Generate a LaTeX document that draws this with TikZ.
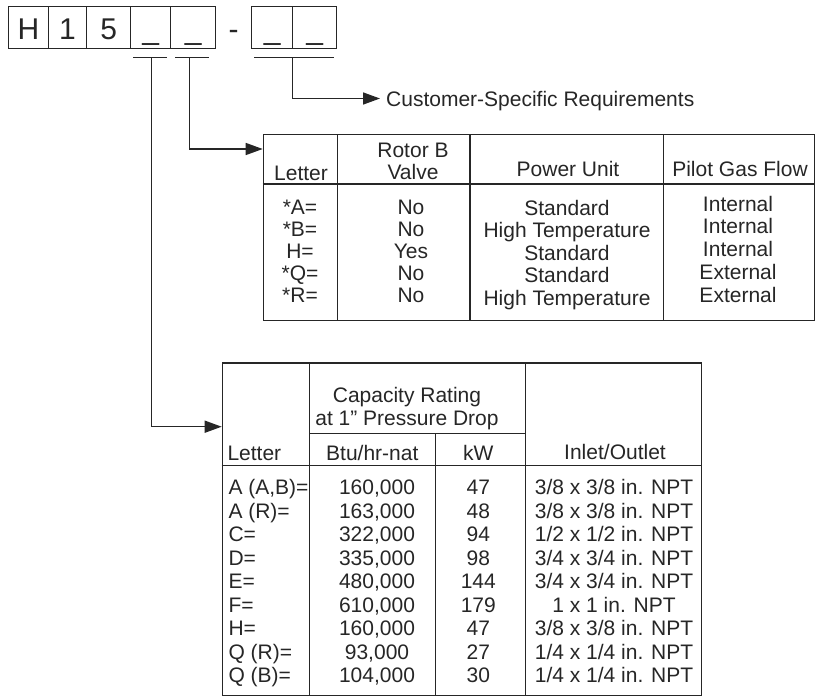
\documentclass[tikz,border=0pt]{standalone}
\usepackage{fontspec}
\setmainfont{Liberation Sans}
\usetikzlibrary{arrows.meta}
\definecolor{ink}{HTML}{262626}
\begin{document}
\begin{tikzpicture}[x=1pt,y=-1pt,
  codebox/.style={draw=ink, line width=1.3pt, minimum height=42pt, inner sep=0pt, anchor=north west,
    text height=23.5pt, text depth=0pt, font=\fontsize{30}{34}\selectfont, text=ink},
  txt/.style={inner sep=0pt, text height=15.1pt, text depth=0pt, font=\fontsize{21}{25}\selectfont, text=ink},
  tbl/.style={draw=ink, line width=1.2pt, inner sep=0pt, anchor=north west},
  tline/.style={draw=ink, line width=1.2pt},
  bar/.style={draw=ink, line width=1.2pt},
  conn/.style={draw=ink, line width=1.5pt, -{Triangle[length=17pt,width=12pt]}}]
\useasboundingbox (0,0) rectangle (818,696);

% part-number boxes
\node[codebox, minimum width=39.7pt] (c1) at (8,5.7) {H};
\node[codebox, minimum width=38.3pt] (c2) at (47.7,5.7) {1};
\node[codebox, minimum width=44pt] (c3) at (86,5.7) {5};
\node[codebox, minimum width=40pt] (c4) at (130,5.7) {\_};
\node[codebox, minimum width=45pt] (c5) at (170,5.7) {\_};
\node[codebox, draw=none, minimum width=36pt] (dash) at (215,5.7) {-};
\node[codebox, minimum width=41pt] (c6) at (251,5.7) {\_};
\node[codebox, minimum width=44pt] (c7) at (292,5.7) {\_};

% bars under boxes
\draw[bar] (133,57.3) -- (167,57.3);
\draw[bar] (175,57.3) -- (209,57.3);
\draw[bar] (254,57.3) -- (334,57.3);
\coordinate (s1) at (151.7,57.3);
\coordinate (s2) at (189.3,57.3);
\coordinate (s3) at (292.3,57.3);

% customer-specific
\node[txt, anchor=west, inner xsep=6pt] (cust) at (380,98.5) {Customer-Specific Requirements};
\draw[conn] (s3) |- (cust.west);

% top table
\node[tbl, minimum width=551.3pt, minimum height=186pt] (tabA) at (262.7,134) {};
\coordinate (inA) at (262.7,149);
\draw[conn] (s2) |- (inA);
\draw[tline] (337.3,134) -- (337.3,320);
\draw[tline] (470,134) -- (470,320);
\draw[tline] (663.7,134) -- (663.7,320);
\draw[tline] (262.7,184) -- (814,184);

\node[txt] (ha1) at (301,173.3) {Letter};
\node[txt] (ha2) at (413,150) {Rotor B};
\node[txt] (ha3) at (413,171.7) {Valve};
\node[txt] (ha4) at (568,169.3) {Power Unit};
\node[txt] (ha5) at (740,169.3) {Pilot Gas Flow};

\foreach \l/\v/\p/\g/\ya/\yb/\yc [count=\i] in {
  {*A=}/No/Standard/Internal/206.5/207.5/203.5,
  {*B=}/No/{High Temperature}/Internal/228.7/230/226.4,
  {H=}/Yes/Standard/Internal/250.9/252.5/249.3,
  {*Q=}/No/Standard/External/273.1/275/272.2,
  {*R=}/No/{High Temperature}/External/295.3/297.5/295.1}{
  \node[txt] (ra\i) at (300,\ya) {\l};
  \node[txt] (rv\i) at (411,\ya) {\v};
  \node[txt] (rp\i) at (567,\yb) {\p};
  \node[txt] (rg\i) at (738,\yc) {\g};
}

% bottom table
\node[tbl, minimum width=479.3pt, minimum height=332.2pt] (tabB) at (221.7,362.3) {};
\coordinate (inB) at (221.7,426.7);
\draw[conn] (s1) |- (inB);
\draw[tline] (309.3,362.3) -- (309.3,694.5);
\draw[tline] (525.7,362.3) -- (525.7,694.5);
\draw[tline] (435.7,433.3) -- (435.7,694.5);
\draw[tline] (309.3,433.3) -- (525.7,433.3);
\draw[tline] (221.7,465.3) -- (701,465.3);

\node[txt] (hb1) at (407,395) {Capacity Rating};
\node[txt] (hb2) at (407,418.3) {at 1” Pressure Drop};
\node[txt, anchor=west] (hb3) at (227.3,453) {Letter};
\node[txt] (hb4) at (372.3,453) {Btu/hr-nat};
\node[txt] (hb5) at (478.3,453) {kW};
\node[txt] (hb6) at (615,452) {Inlet/Outlet};

\foreach \l/\b/\k/\o [count=\i from 0] in {
  {A (A,B)=}/{160,000}/47/{3/8 x 3/8 in. NPT},
  {A (R)=}/{163,000}/48/{3/8 x 3/8 in. NPT},
  {C=}/{322,000}/94/{1/2 x 1/2 in. NPT},
  {D=}/{335,000}/98/{3/4 x 3/4 in. NPT},
  {E=}/{480,000}/144/{3/4 x 3/4 in. NPT},
  {F=}/{610,000}/179/{1 x 1 in. NPT},
  {H=}/{160,000}/47/{3/8 x 3/8 in. NPT},
  {Q (R)=}/{93,000}/27/{1/4 x 1/4 in. NPT},
  {Q (B)=}/{104,000}/30/{1/4 x 1/4 in. NPT}}{
  \pgfmathsetmacro{\yy}{487+23.5*\i}
  \node[txt, anchor=west] (bl\i) at (228.3,\yy) {\l};
  \node[txt] (bb\i) at (377,\yy) {\b};
  \node[txt] (bk\i) at (478.3,\yy) {\k};
  \node[txt] (bo\i) at (614,\yy) {\o};
}
\end{tikzpicture}
\end{document}
